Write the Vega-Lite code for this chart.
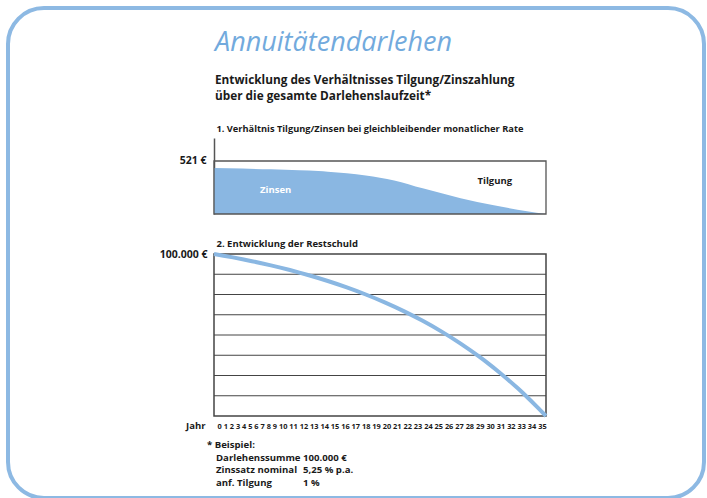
{
  "$schema": "https://vega.github.io/schema/vega-lite/v6.json",
  "width": 696,
  "height": 490,
  "autosize": {"type": "none"},
  "padding": {"left": 8, "top": 8, "right": 3, "bottom": 0},
  "background": "white",
  "title": {
    "text": "Annuitätendarlehen",
    "subtitle": ["Entwicklung des Verhältnisses Tilgung/Zinszahlung", "über die gesamte Darlehenslaufzeit*"],
    "anchor": "start",
    "frame": "group",
    "orient": "top",
    "dx": 207,
    "offset": -96,
    "font": "Open Sans",
    "fontStyle": "italic",
    "fontWeight": "normal",
    "fontSize": 27,
    "color": "#72AADD",
    "subtitleFont": "Open Sans",
    "subtitleFontWeight": "bold",
    "subtitleFontSize": 11.8,
    "subtitleColor": "#1a1a1a",
    "subtitleLineHeight": 16.2,
    "subtitlePadding": 18
  },
  "datasets": {
    "zinsen": [
      {"jahr": 0, "zinsen": 452},
      {"jahr": 3, "zinsen": 446},
      {"jahr": 6, "zinsen": 439},
      {"jahr": 9, "zinsen": 430},
      {"jahr": 11, "zinsen": 422},
      {"jahr": 12, "zinsen": 416},
      {"jahr": 14, "zinsen": 401},
      {"jahr": 16, "zinsen": 379},
      {"jahr": 19, "zinsen": 330},
      {"jahr": 22, "zinsen": 252},
      {"jahr": 26, "zinsen": 155},
      {"jahr": 29.5, "zinsen": 85},
      {"jahr": 33, "zinsen": 28},
      {"jahr": 35, "zinsen": 0}
    ],
    "restschuld": [
      {"jahr": 0, "restschuld": 100000},
      {"jahr": 1, "restschuld": 98976},
      {"jahr": 2, "restschuld": 97896},
      {"jahr": 3, "restschuld": 96759},
      {"jahr": 4, "restschuld": 95560},
      {"jahr": 5, "restschuld": 94297},
      {"jahr": 6, "restschuld": 92966},
      {"jahr": 7, "restschuld": 91563},
      {"jahr": 8, "restschuld": 90085},
      {"jahr": 9, "restschuld": 88527},
      {"jahr": 10, "restschuld": 86886},
      {"jahr": 12, "restschuld": 83334},
      {"jahr": 14, "restschuld": 79390},
      {"jahr": 16, "restschuld": 75007},
      {"jahr": 18, "restschuld": 70144},
      {"jahr": 20, "restschuld": 64743},
      {"jahr": 22, "restschuld": 58745},
      {"jahr": 24, "restschuld": 52082},
      {"jahr": 26, "restschuld": 44687},
      {"jahr": 28, "restschuld": 36475},
      {"jahr": 29, "restschuld": 32033},
      {"jahr": 30, "restschuld": 27354},
      {"jahr": 31, "restschuld": 22422},
      {"jahr": 32, "restschuld": 17225},
      {"jahr": 33, "restschuld": 11749},
      {"jahr": 34, "restschuld": 5978},
      {"jahr": 35, "restschuld": 0}
    ],
    "raster": [
      {"wert": 12500}, {"wert": 25000}, {"wert": 37500}, {"wert": 50000},
      {"wert": 62500}, {"wert": 75000}, {"wert": 87500}
    ],
    "bereiche": [
      {"label": "Zinsen", "jahr": 6.5, "betrag": 236},
      {"label": "Tilgung", "jahr": 29.6, "betrag": 324}
    ],
    "beispiel": [
      {"zeile": 1, "Bezeichnung": "Darlehenssumme", "Wert": "100.000 €"},
      {"zeile": 2, "Bezeichnung": "Zinssatz nominal", "Wert": "5,25 % p.a."},
      {"zeile": 3, "Bezeichnung": "anf. Tilgung", "Wert": "1 %"}
    ]
  },
  "layer": [
    {
      "data": {"name": "zinsen"},
      "mark": {"type": "area", "interpolate": "monotone", "color": "#8AB7E2"},
      "encoding": {
        "x": {
          "field": "jahr", "type": "quantitative",
          "scale": {"domain": [0, 35], "range": [206, 538], "nice": false, "zero": false},
          "axis": {
            "orient": "bottom", "offset": -81, "domain": false, "ticks": false, "labels": false, "grid": false,
            "title": "Jahr", "titleX": 197, "titleY": 8, "titleAlign": "right", "titleBaseline": "middle",
            "titleFont": "Open Sans", "titleFontWeight": "bold", "titleFontSize": 9.5, "titleColor": "#1a1a1a"
          }
        },
        "y": {
          "field": "zinsen", "type": "quantitative",
          "scale": {"domain": [0, 747], "range": [206, 130], "nice": false, "zero": false},
          "axis": {
            "orient": "left", "offset": -206, "values": [521], "labelExpr": "'521 €'",
            "domain": true, "domainColor": "#555555", "domainWidth": 1.5, "ticks": false, "grid": false,
            "labelPadding": 8, "labelFont": "Open Sans", "labelFontWeight": "bold", "labelFontSize": 10.5, "labelColor": "#1a1a1a",
            "title": "1. Verhältnis Tilgung/Zinsen bei gleichbleibender monatlicher Rate",
            "titleAngle": 0, "titleX": 2, "titleY": 120, "titleAlign": "left", "titleBaseline": "middle",
            "titleFont": "Open Sans", "titleFontWeight": "bold", "titleFontSize": 9.25, "titleColor": "#1a1a1a"
          }
        }
      }
    },
    {
      "data": {"values": [{}]},
      "mark": {"type": "rect", "fill": "transparent", "stroke": "#555555", "strokeWidth": 1.3},
      "encoding": {
        "x": {"datum": 0, "type": "quantitative", "scale": {"domain": [0, 35], "range": [206, 538], "nice": false, "zero": false}, "axis": null},
        "x2": {"datum": 35},
        "y": {"datum": 0, "type": "quantitative", "scale": {"domain": [0, 747], "range": [206, 130], "nice": false, "zero": false}, "axis": null},
        "y2": {"datum": 521}
      }
    },
    {
      "data": {"name": "bereiche"},
      "mark": {"type": "text", "font": "Open Sans", "fontWeight": "bold", "fontSize": 9.5, "baseline": "middle"},
      "encoding": {
        "x": {"field": "jahr", "type": "quantitative", "scale": {"domain": [0, 35], "range": [206, 538], "nice": false, "zero": false}, "axis": null},
        "y": {"field": "betrag", "type": "quantitative", "scale": {"domain": [0, 747], "range": [206, 130], "nice": false, "zero": false}, "axis": null},
        "text": {"field": "label"},
        "color": {"field": "label", "type": "nominal", "scale": {"domain": ["Zinsen", "Tilgung"], "range": ["#ffffff", "#1a1a1a"]}, "legend": null}
      }
    },
    {
      "data": {"name": "raster"},
      "mark": {"type": "rule", "color": "#444444", "strokeWidth": 1},
      "encoding": {
        "x": {"datum": 0, "type": "quantitative", "scale": {"domain": [0, 35], "range": [206, 538], "nice": false, "zero": false}, "axis": null},
        "x2": {"datum": 35},
        "y": {"field": "wert", "type": "quantitative", "scale": {"domain": [0, 100000], "range": [408, 246], "nice": false, "zero": false}, "axis": null}
      }
    },
    {
      "data": {"values": [{}]},
      "mark": {"type": "rect", "fill": "transparent", "stroke": "#444444", "strokeWidth": 1.5},
      "encoding": {
        "x": {"datum": 0, "type": "quantitative", "scale": {"domain": [0, 35], "range": [206, 538], "nice": false, "zero": false}, "axis": null},
        "x2": {"datum": 35},
        "y": {"datum": 0, "type": "quantitative", "scale": {"domain": [0, 100000], "range": [408, 246], "nice": false, "zero": false}, "axis": null},
        "y2": {"datum": 100000}
      }
    },
    {
      "data": {"name": "restschuld"},
      "mark": {"type": "line", "interpolate": "monotone", "color": "#8AB7E2", "strokeWidth": 4},
      "encoding": {
        "x": {
          "field": "jahr", "type": "quantitative",
          "scale": {"domain": [0, 35], "range": [206, 538], "nice": false, "zero": false},
          "axis": {
            "orient": "bottom", "offset": -81, "domain": false, "ticks": false, "labels": false, "grid": false,
            "title": "0 1 2 3 4 5 6 7 8 9 10 11 12 13 14 15 16 17 18 19 20 21 22 23 24 25 26 27 28 29 30 31 32 33 34 35",
            "titleX": 209, "titleY": 9, "titleAlign": "left", "titleBaseline": "middle",
            "titleFont": "Open Sans", "titleFontWeight": "bold", "titleFontSize": 7.4, "titleColor": "#1a1a1a"
          }
        },
        "y": {
          "field": "restschuld", "type": "quantitative",
          "scale": {"domain": [0, 100000], "range": [408, 246], "nice": false, "zero": false},
          "axis": {
            "orient": "left", "offset": -206, "values": [100000], "labelExpr": "'100.000 €'",
            "domain": false, "ticks": false, "grid": false,
            "labelPadding": 7, "labelFont": "Open Sans", "labelFontWeight": "bold", "labelFontSize": 10.5, "labelColor": "#1a1a1a",
            "title": "2. Entwicklung der Restschuld",
            "titleAngle": 0, "titleX": 2, "titleY": 235, "titleAlign": "left", "titleBaseline": "middle",
            "titleFont": "Open Sans", "titleFontWeight": "bold", "titleFontSize": 9.5, "titleColor": "#1a1a1a"
          }
        }
      }
    },
    {
      "data": {"values": [{"zeile": 0, "text": "* Beispiel:"}]},
      "mark": {"type": "text", "align": "left", "baseline": "middle", "dx": -9, "font": "Open Sans", "fontWeight": "bold", "fontSize": 9.6, "color": "#1a1a1a"},
      "encoding": {
        "x": {"datum": "Bezeichnung", "type": "nominal", "scale": {"type": "point", "domain": ["Bezeichnung", "Wert"], "range": [208, 295], "padding": 0}, "axis": null},
        "y": {"field": "zeile", "type": "quantitative", "scale": {"domain": [0, 3], "range": [437, 475], "nice": false, "zero": false}, "axis": null},
        "text": {"field": "text"}
      }
    },
    {
      "data": {"name": "beispiel"},
      "transform": [{"fold": ["Bezeichnung", "Wert"]}],
      "mark": {"type": "text", "align": "left", "baseline": "middle", "font": "Open Sans", "fontWeight": "bold", "fontSize": 9.6, "color": "#1a1a1a"},
      "encoding": {
        "x": {"field": "key", "type": "nominal", "scale": {"type": "point", "domain": ["Bezeichnung", "Wert"], "range": [208, 295], "padding": 0}, "axis": null},
        "y": {"field": "zeile", "type": "quantitative", "scale": {"domain": [0, 3], "range": [437, 475], "nice": false, "zero": false}, "axis": null},
        "text": {"field": "value"}
      }
    }
  ],
  "resolve": {
    "scale": {"x": "independent", "y": "independent", "color": "independent"},
    "axis": {"x": "independent", "y": "independent"}
  },
  "config": {
    "view": {"stroke": "#8DB9E3", "strokeWidth": 4, "cornerRadius": 36},
    "font": "Open Sans"
  }
}
